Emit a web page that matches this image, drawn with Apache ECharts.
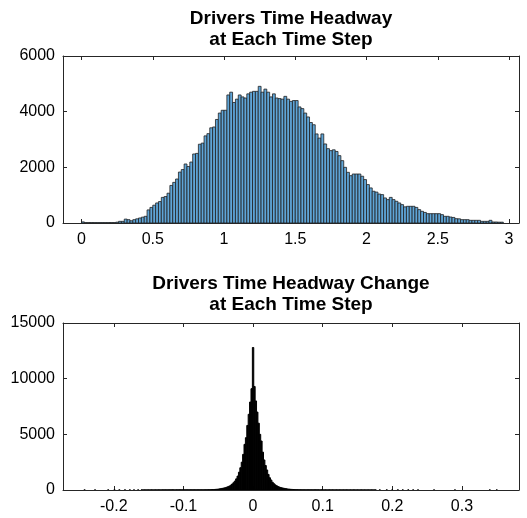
<!DOCTYPE html>
<html>
<head>
<meta charset="utf-8">
<script src="https://cdn.jsdelivr.net/npm/echarts@6/dist/echarts.min.js"></script>
<style>
  html, body { margin: 0; padding: 0; background: #fff; }
  #chart { width: 527px; height: 518px; }
</style>
</head>
<body>
<div id="chart"></div>
<script>
// top histogram: time headway, bins of 0.02 starting at 0
var headwayBinStart = 0;
var headwayBinWidth = 0.02;
var headwayCounts = [
    40, 15, 15, 15, 15, 15, 15, 15, 15, 15, 15, 15, 30, 60, 60, 140, 120, 80, 120, 150,
    180, 210, 240, 470, 560, 640, 720, 770, 920, 950, 1070, 1350, 1460, 1580, 1830, 1920, 2120, 2030, 2190, 2480,
    2500, 2830, 2870, 3130, 3210, 3420, 3450, 3720, 3950, 4050, 4050, 4600, 4700, 4330, 4450, 4600, 4530, 4490, 4640, 4700,
    4730, 4730, 4910, 4700, 4810, 4700, 4530, 4640, 4490, 4470, 4450, 4550, 4450, 4370, 4400, 4400, 4170, 4110, 3950, 3810,
    3610, 3530, 3200, 3050, 3200, 2840, 2670, 2600, 2630, 2570, 2420, 2240, 2000, 1820, 1700, 1760, 1760, 1760, 1680, 1560,
    1380, 1260, 1140, 1110, 1040, 1020, 900, 840, 920, 840, 780, 720, 660, 580, 600, 600, 600, 560, 480, 420,
    380, 335, 335, 335, 335, 335, 300, 240, 240, 215, 200, 155, 150, 120, 120, 120, 96, 96, 96, 96,
    60, 60, 60, 96, 36, 36, 30, 30
];
var headwayTicks = [0, 0.5, 1, 1.5, 2, 2.5, 3];

// bottom histogram: headway change, bins of 0.002 centred from -0.16
var changeBinStart = -0.16;
var changeBinWidth = 0.002;
var changeCounts = [
    // -0.160 .. -0.072
    6, 8, 7, 9, 8, 7, 9, 10, 8, 9, 10, 9, 11, 10, 9, 11, 12, 10, 11, 12,
    11, 12, 13, 12, 11, 13, 12, 14, 13, 12, 14, 13, 12, 14, 13, 14, 13, 14, 15, 14,
    13, 14, 15, 14, 15,
    // -0.070 .. -0.002
    15, 18, 20, 22, 26, 30, 35, 45, 55, 65, 80, 100, 125, 150, 175, 205, 245, 295, 350, 430,
    530, 650, 800, 1000, 1250, 1600, 2000, 2500, 3200, 4100, 4700, 5800, 6800, 7900, 9100,
    // 0
    12800,
    // 0.002 .. 0.070
    9300, 8000, 7000, 6000, 5000, 4400, 3400, 2700, 2200, 1800, 1400, 1100, 900, 700, 570, 460,
    380, 310, 260, 220, 185, 160, 135, 112, 92, 76, 63, 52, 42, 34, 28, 24, 21, 18, 15,
    // 0.072 .. 0.176
    15, 14, 14, 13, 14, 13, 12, 13, 14, 12, 13, 12, 11, 13, 12, 11, 12, 10, 11, 12,
    10, 11, 10, 9, 11, 10, 9, 10, 9, 8, 10, 9, 8, 9, 8, 7, 9, 8, 7, 8,
    7, 6, 8, 7, 6, 7, 6, 5, 7, 6, 5, 6, 5
];
// isolated outlier bins out in the tails
var changeOutlierX = [-0.242, -0.227, -0.208, -0.199, -0.192, -0.184, -0.177, -0.171, -0.165,
    0.182, 0.192, 0.200, 0.208, 0.215, 0.223, 0.230, 0.237, 0.260, 0.290, 0.340, 0.350];
var changeOutlierCounts = [3, 4, 5, 6, 5, 6, 5, 4, 6, 5, 6, 5, 6, 4, 5, 4, 3, 3, 2, 2, 2];
var changeTicks = [-0.2, -0.1, 0, 0.1, 0.2, 0.3];

var headwayData = headwayCounts.map(function (c, i) {
    return [headwayBinStart + headwayBinWidth * (i + 0.5), c];
});
var changeData = changeCounts.map(function (c, i) {
    return [changeBinStart + changeBinWidth * i, c];
});
changeOutlierX.forEach(function (x, i) {
    changeData.push([x, changeOutlierCounts[i]]);
});

var font = '"Liberation Sans", Arial, Helvetica, sans-serif';
var axisColor = '#262626';

// one histogram bin = one rect, placed with the axis scales
function binRenderer(width, style) {
    return function (params, api) {
        var x = api.value(0);
        var y = api.value(1);
        var p0 = api.coord([x - width / 2, y]);
        var p1 = api.coord([x + width / 2, 0]);
        return {
            type: 'rect',
            shape: { x: p0[0], y: p0[1], width: p1[0] - p0[0], height: p1[1] - p0[1] },
            style: style
        };
    };
}

function plainNumber(v) {
    return String(v);
}

function xAxes(gridIndex, min, max, ticks) {
    return [{
        type: 'value', gridIndex: gridIndex, position: 'bottom', min: min, max: max,
        axisLine: { show: true, onZero: false, lineStyle: { color: axisColor, width: 1 } },
        axisTick: { show: true, inside: true, length: 4, customValues: ticks, lineStyle: { color: axisColor } },
        axisLabel: { customValues: ticks, formatter: plainNumber, color: '#000', fontFamily: font, fontSize: 16, margin: 9 },
        splitLine: { show: false }
    }, {
        type: 'value', gridIndex: gridIndex, position: 'top', min: min, max: max,
        axisLine: { show: true, onZero: false, lineStyle: { color: axisColor, width: 1 } },
        axisTick: { show: true, inside: true, length: 4, customValues: ticks, lineStyle: { color: axisColor } },
        axisLabel: { show: false },
        splitLine: { show: false }
    }];
}

function yAxes(gridIndex, max, interval) {
    return [{
        type: 'value', gridIndex: gridIndex, position: 'left', min: 0, max: max, interval: interval,
        axisLine: { show: true, onZero: false, lineStyle: { color: axisColor, width: 1 } },
        axisTick: { show: true, inside: true, length: 4, lineStyle: { color: axisColor } },
        axisLabel: { formatter: plainNumber, color: '#000', fontFamily: font, fontSize: 16, margin: 8 },
        splitLine: { show: false }
    }, {
        type: 'value', gridIndex: gridIndex, position: 'right', min: 0, max: max, interval: interval,
        axisLine: { show: true, onZero: false, lineStyle: { color: axisColor, width: 1 } },
        axisTick: { show: true, inside: true, length: 4, lineStyle: { color: axisColor } },
        axisLabel: { show: false },
        splitLine: { show: false }
    }];
}

var chart = echarts.init(document.getElementById('chart'), null, { renderer: 'canvas' });
chart.setOption({
    animation: false,
    backgroundColor: '#fff',
    title: [{
        text: 'Drivers Time Headway\nat Each Time Step',
        left: 291, top: 8, textAlign: 'center', padding: 0,
        textStyle: { fontFamily: font, fontSize: 19, fontWeight: 'bold', color: '#000', lineHeight: 21 }
    }, {
        text: 'Drivers Time Headway Change\nat Each Time Step',
        left: 291, top: 273, textAlign: 'center', padding: 0,
        textStyle: { fontFamily: font, fontSize: 19, fontWeight: 'bold', color: '#000', lineHeight: 21 }
    }],
    grid: [
        { left: 63, top: 56, width: 456, height: 167 },
        { left: 63, top: 323, width: 456, height: 167 }
    ],
    xAxis: xAxes(0, -0.13, 3.07, headwayTicks).concat(xAxes(1, -0.273, 0.382, changeTicks)),
    yAxis: yAxes(0, 6000, 2000).concat(yAxes(1, 15000, 5000)),
    series: [{
        type: 'custom',
        xAxisIndex: 0, yAxisIndex: 0,
        clip: true,
        renderItem: binRenderer(headwayBinWidth, { fill: '#5fa5d7', stroke: '#1f1f1f', lineWidth: 0.8 }),
        encode: { x: 0, y: 1 },
        data: headwayData
    }, {
        type: 'custom',
        xAxisIndex: 2, yAxisIndex: 2,
        clip: true,
        renderItem: binRenderer(changeBinWidth, { fill: '#000', stroke: '#000', lineWidth: 1 }),
        encode: { x: 0, y: 1 },
        data: changeData
    }]
});
</script>
</body>
</html>
